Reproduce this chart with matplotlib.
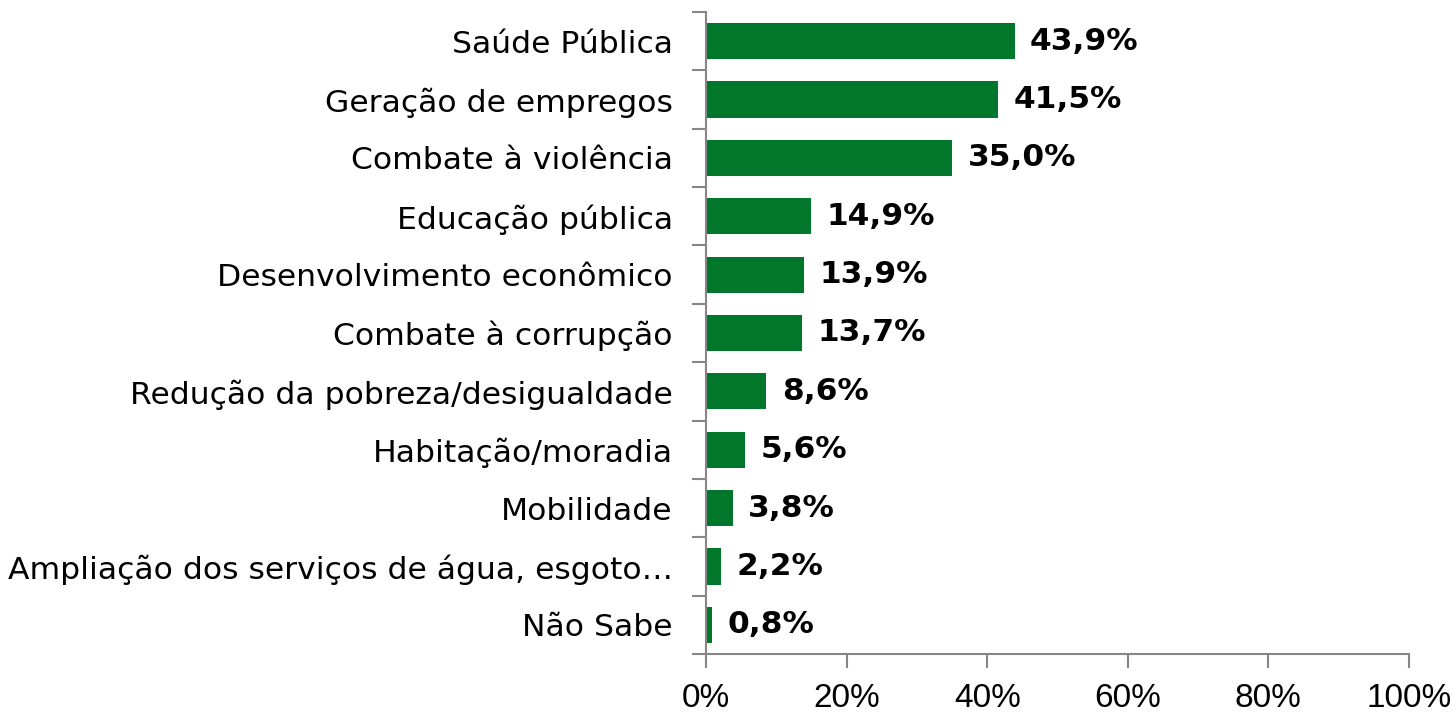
import numpy as np
import matplotlib
matplotlib.use("Agg")
import matplotlib.pyplot as plt
from matplotlib.ticker import FixedLocator

categories = ["Saúde Pública", "Geração de empregos", "Combate à violência",
              "Educação pública", "Desenvolvimento econômico",
              "Combate à corrupção", "Redução da pobreza/desigualdade",
              "Habitação/moradia", "Mobilidade",
              "Ampliação dos serviços de água, esgoto…", "Não Sabe"]
values = [43.9, 41.5, 35.0, 14.9, 13.9, 13.7, 8.6, 5.6, 3.8, 2.2, 0.8]
xticks = [0, 20, 40, 60, 80, 100]
xticklabels = ["0%", "20%", "40%", "60%", "80%", "100%"]

fig = plt.figure(figsize=(14.54, 7.14), dpi=100)
ax = fig.add_axes([706 / 1454, 1 - 654 / 714, 703 / 1454, 642 / 714])

y = np.arange(len(categories))
ax.barh(y, values, height=0.62, color="#00772B")
for yi, v in zip(y, values):
    ax.text(v + 2.2, yi, ("%.1f%%" % v).replace(".", ","), va="center", ha="left",
            fontsize=22.5, fontweight="bold", family="DejaVu Sans")

ax.set_xlim(0, 100)
ax.set_ylim(len(categories) - 0.5, -0.5)
ax.set_xticks(xticks)
ax.set_xticklabels(xticklabels, fontsize=24,
                   family=["Liberation Sans Narrow", "Liberation Sans"])
ax.set_yticks(y)
ax.set_yticklabels(categories, fontsize=22.6, family="DejaVu Sans")
ax.yaxis.set_minor_locator(FixedLocator(np.arange(-0.5, len(categories), 1.0)))

axis_color = "#868686"
for s in ["top", "right"]:
    ax.spines[s].set_visible(False)
for s in ["left", "bottom"]:
    ax.spines[s].set_color(axis_color)
    ax.spines[s].set_linewidth(1.5)
ax.tick_params(axis="y", which="major", length=0, pad=24)
ax.tick_params(axis="y", which="minor", length=10, width=1.5, color=axis_color, direction="out")
ax.tick_params(axis="x", length=10, width=1.5, color=axis_color, direction="out", pad=11)

fig.savefig("out.png", dpi=100)
